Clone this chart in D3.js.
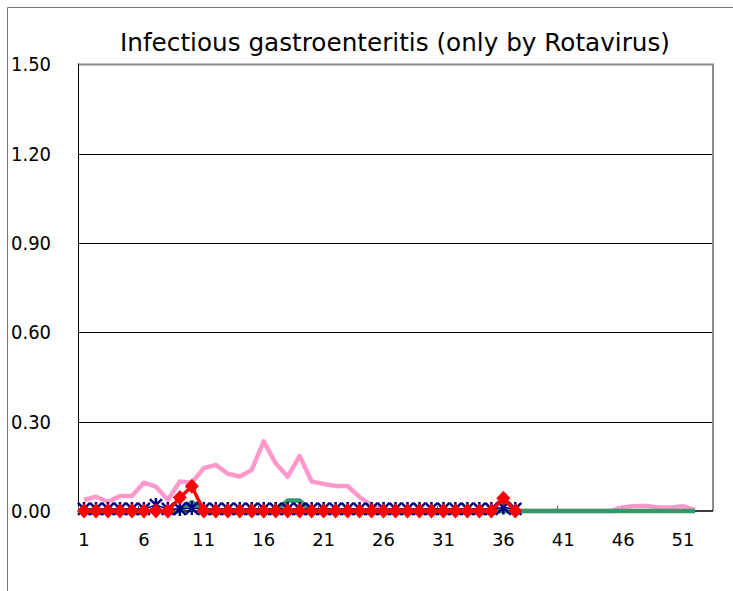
<!DOCTYPE html>
<html>
<head>
<meta charset="utf-8">
<script src="https://cdn.jsdelivr.net/npm/d3@7"></script>
<style>
  body { margin: 0; background: #fff; }
  svg { display: block; }
  text { font-family: "DejaVu Sans", sans-serif; fill: #000; }
</style>
</head>
<body>
<svg id="chart" width="733" height="591"></svg>
<script>
"use strict";

// weeks 1..53 on the category axis
const weeks = d3.range(1, 54);
const weekLabels = [1, 6, 11, 16, 21, 26, 31, 36, 41, 46, 51];
const yTicks = [0, 0.3, 0.6, 0.9, 1.2, 1.5];

// series values by week
const pinkValues = [0.037, 0.048, 0.031, 0.05, 0.05, 0.095, 0.082, 0.037, 0.099, 0.095,
  0.144, 0.155, 0.125, 0.116, 0.138, 0.234, 0.16, 0.115, 0.185, 0.099,
  0.091, 0.084, 0.084, 0.047, 0.02, 0, 0, 0, 0, 0,
  0, 0, 0, 0, 0, 0, 0, 0, 0, 0,
  0, 0, 0, 0, 0, 0.013, 0.017, 0.017, 0.012, 0.012,
  0.016, 0.004];
const greenValues = [0, 0, 0, 0, 0, 0, 0, 0, 0, 0.03,
  0, 0, 0, 0, 0, 0, 0, 0.035, 0.035, 0,
  0, 0, 0, 0, 0, 0, 0, 0, 0, 0,
  0, 0, 0, 0, 0, 0, 0, 0, 0, 0,
  0, 0, 0, 0, 0, 0, 0, 0, 0, 0,
  0, 0];
const navyValues = [0.007, 0.007, 0.007, 0.007, 0.007, 0.007, 0.02, 0.007, 0.007, 0.01,
  0.007, 0.007, 0.007, 0.007, 0.007, 0.007, 0.007, 0.007, 0.007, 0.007,
  0.007, 0.007, 0.007, 0.007, 0.007, 0.007, 0.007, 0.007, 0.007, 0.007,
  0.007, 0.007, 0.007, 0.007, 0.007, 0.012, 0.007];
const redValues = [0, 0, 0, 0, 0, 0, 0, 0, 0.045, 0.083,
  0, 0, 0, 0, 0, 0, 0, 0, 0, 0,
  0, 0, 0, 0, 0, 0, 0, 0, 0, 0,
  0, 0, 0, 0, 0, 0.043, 0];

const LEFT = 78, RIGHT = 713, TOP = 64.5, BOTTOM = 511;

const svg = d3.select("#chart");

// outer chart frame
svg.append("path")
  .attr("d", "M7.5,600 L7.5,7.5 L740,7.5")
  .attr("fill", "none")
  .attr("stroke", "#777")
  .attr("stroke-width", 1);

const x = d3.scalePoint()
  .domain(weeks)
  .range([LEFT, RIGHT])
  .padding(0.5);
const step = x.step();

const y = d3.scaleLinear()
  .domain([0, 1.5])
  .range([BOTTOM, TOP]);

// title
svg.append("text")
  .attr("x", 395)
  .attr("y", 51)
  .attr("text-anchor", "middle")
  .attr("font-size", 25)
  .attr("textLength", 550)
  .attr("lengthAdjust", "spacingAndGlyphs")
  .text("Infectious gastroenteritis (only by Rotavirus)");

// gridlines
svg.append("g")
  .selectAll("line")
  .data(yTicks.filter(d => d > 0 && d < 1.5))
  .enter()
  .append("line")
  .attr("x1", LEFT).attr("x2", RIGHT)
  .attr("y1", d => Math.round(y(d)) + 0.5)
  .attr("y2", d => Math.round(y(d)) + 0.5)
  .attr("stroke", "#000")
  .attr("stroke-width", 1);

// plot border top/right (gray)
svg.append("path")
  .attr("d", `M${LEFT},${TOP} L${RIGHT},${TOP} L${RIGHT},${BOTTOM}`)
  .attr("fill", "none")
  .attr("stroke", "#8c8c8c")
  .attr("stroke-width", 2);

// y labels
svg.append("g")
  .selectAll("text")
  .data(yTicks)
  .enter()
  .append("text")
  .attr("x", 11)
  .attr("y", d => y(d))
  .attr("dy", "0.36em")
  .attr("font-size", 19)
  .attr("textLength", 40)
  .attr("lengthAdjust", "spacingAndGlyphs")
  .text(d => d3.format(".2f")(d));

// y axis line
svg.append("line")
  .attr("x1", LEFT + 0.5).attr("x2", LEFT + 0.5)
  .attr("y1", TOP - 1).attr("y2", BOTTOM)
  .attr("stroke", "#000");

// x axis line and ticks (ticks at category boundaries, pointing in)
svg.append("line")
  .attr("x1", LEFT).attr("x2", RIGHT)
  .attr("y1", BOTTOM).attr("y2", BOTTOM)
  .attr("stroke", "#000")
  .attr("stroke-width", 1.5);

svg.append("g")
  .selectAll("line")
  .data(weekLabels)
  .enter()
  .append("line")
  .attr("x1", d => Math.round(x(d) - step / 2) + 0.5)
  .attr("x2", d => Math.round(x(d) - step / 2) + 0.5)
  .attr("y1", BOTTOM).attr("y2", BOTTOM - 5)
  .attr("stroke", "#555");

svg.append("g")
  .selectAll("text")
  .data(weekLabels)
  .enter()
  .append("text")
  .attr("x", d => x(d))
  .attr("y", 546)
  .attr("text-anchor", "middle")
  .attr("font-size", 18)
  .text(d => d);

const line = d3.line()
  .x((d, i) => x(weeks[i]))
  .y(d => y(d));

// pink
svg.append("path")
  .datum(pinkValues)
  .attr("d", line)
  .attr("fill", "none")
  .attr("stroke", "#ff99cc")
  .attr("stroke-width", 4.5)
  .attr("stroke-linejoin", "round");

// green
svg.append("path")
  .datum(greenValues)
  .attr("d", line)
  .attr("fill", "none")
  .attr("stroke", "#339966")
  .attr("stroke-width", 4.5)
  .attr("stroke-linejoin", "round");

// navy with asterisk markers
svg.append("path")
  .datum(navyValues)
  .attr("d", line)
  .attr("fill", "none")
  .attr("stroke", "#000080")
  .attr("stroke-width", 1.5);

const r = 6;
svg.append("g")
  .selectAll("path")
  .data(navyValues)
  .enter()
  .append("path")
  .attr("transform", (d, i) => `translate(${x(weeks[i])},${y(d)})`)
  .attr("d", `M${-r},${-r}L${r},${r}M${-r},${r}L${r},${-r}M0,${-r - 1}L0,${r + 1}`)
  .attr("stroke", "#000080")
  .attr("stroke-width", 2.5)
  .attr("fill", "none");

// red with diamond markers
svg.append("path")
  .datum(redValues)
  .attr("d", line)
  .attr("fill", "none")
  .attr("stroke", "#ff0000")
  .attr("stroke-width", 3.5);

svg.append("g")
  .selectAll("path")
  .data(redValues)
  .enter()
  .append("path")
  .attr("transform", (d, i) => `translate(${x(weeks[i])},${y(d)})`)
  .attr("d", "M0,-7.5L7,0L0,7.5L-7,0Z")
  .attr("fill", "#ff0000");
</script>
</body>
</html>
